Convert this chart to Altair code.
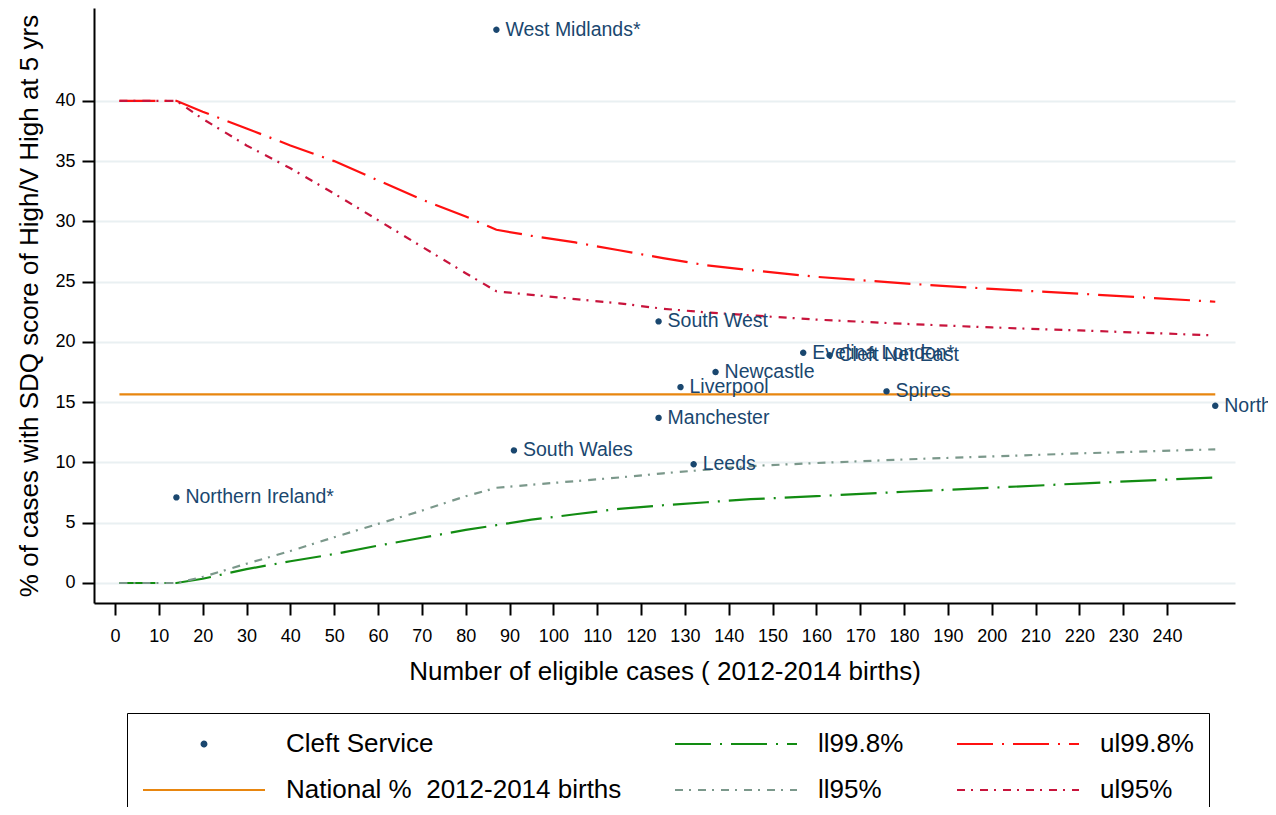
import altair as alt
import pandas as pd

FONT = "Liberation Sans"
NAVY = "#1a476f"
ORANGE = "#e8860f"
GREEN = "#128c12"
GREY = "#7b988b"
RED = "#ff1010"
CRIMSON = "#c8143c"

# ---- data ----
service_names = ["West Midlands*", "Northern Ireland*", "South Wales", "South West",
                 "Manchester", "Liverpool", "Leeds", "Newcastle", "Evelina London*",
                 "Cleft Net East", "Spires", "North Thames"]
service_n = [87, 14, 91, 124, 124, 129, 132, 137, 157, 163, 176, 251]
service_pct = [45.9, 7.1, 11.0, 21.7, 13.7, 16.25, 9.85, 17.5, 19.1, 18.9, 15.9, 14.7]

limit_n = [1, 14, 20, 30, 40, 50, 60, 70, 80, 87, 95, 105, 115, 125, 135, 145, 160, 180, 200, 220, 251]
ul998 = [40, 40, 39.1, 37.7, 36.3, 35.0, 33.4, 31.8, 30.4, 29.3, 28.8, 28.25, 27.6, 26.95,
         26.35, 25.95, 25.4, 24.85, 24.4, 24.0, 23.33]
ul95 = [40, 40, 38.5, 36.3, 34.4, 32.3, 30.1, 27.9, 25.7, 24.2, 23.9, 23.55, 23.2, 22.75,
        22.45, 22.2, 21.85, 21.5, 21.2, 20.95, 20.54]
ll95 = [0, 0, 0.5, 1.6, 2.65, 3.8, 4.9, 6.0, 7.2, 7.9, 8.15, 8.45, 8.75, 9.1, 9.4, 9.7,
        9.95, 10.25, 10.5, 10.75, 11.09]
ll998 = [0, 0, 0.35, 1.15, 1.8, 2.4, 3.1, 3.75, 4.4, 4.8, 5.25, 5.7, 6.15, 6.45, 6.7, 6.95,
         7.2, 7.57, 7.9, 8.25, 8.76]
national_n = [1, 251]
national_pct = [15.65, 15.65]

x_ticks = list(range(0, 250, 10))
y_ticks = list(range(0, 45, 5))

S_SERVICE = "Cleft Service"
S_NATIONAL = "National %\u00a0 2012-2014 births"
S_LL998 = "ll99.8%"
S_LL95 = "ll95%"
S_UL998 = "ul99.8%"
S_UL95 = "ul95%"
# legend fills column by column (2 rows x 3 columns)
SERIES = [S_SERVICE, S_NATIONAL, S_LL998, S_LL95, S_UL998, S_UL95]

# ---- tables ----
rows = []
for name, vals in [(S_LL998, ll998), (S_UL998, ul998), (S_LL95, ll95), (S_UL95, ul95)]:
    for n, v in zip(limit_n, vals):
        rows.append({"n": n, "pct": v, "series": name})
for n, v in zip(national_n, national_pct):
    rows.append({"n": n, "pct": v, "series": S_NATIONAL})
lines_df = pd.DataFrame(rows)

pts_df = pd.DataFrame({"name": service_names, "n": service_n, "pct": service_pct,
                       "series": S_SERVICE})

# ---- scales ----
LONG_DASH_DOT = [36, 9, 2, 9]
DASH_DOT = [8, 6, 2, 7]
SOLID = [1, 0]
DOT = "M0.04,0A0.04,0.04,0,1,1,-0.04,0A0.04,0.04,0,1,1,0.04,0Z"
LINE = "M-1,0L1,0"

x_scale = alt.Scale(domain=[-4.8, 255.5], nice=False, zero=False)
y_scale = alt.Scale(domain=[-1.66, 47.7], nice=False, zero=False)
stroke_scale = alt.Scale(domain=SERIES, range=[NAVY, ORANGE, GREEN, GREY, RED, CRIMSON])
dash_scale = alt.Scale(domain=SERIES, range=[SOLID, SOLID, LONG_DASH_DOT, DASH_DOT, LONG_DASH_DOT, DASH_DOT])
fill_scale = alt.Scale(domain=SERIES, range=[NAVY] + ["transparent"] * 5)
shape_scale = alt.Scale(domain=SERIES, range=[DOT] + [LINE] * 5)

legend = alt.Legend(
    title=None, orient="none", legendX=33, legendY=705, columns=3,
    symbolSize=14884, symbolStrokeWidth=2, symbolType=LINE,
    clipHeight=32, rowPadding=14,
    columnPadding=52, padding=15, strokeColor="black",
    labelFont=FONT, labelFontSize=26, labelColor="black", labelOffset=20,
    labelLimit=600,
)

x_axis = alt.Axis(
    values=x_ticks, title="Number of eligible cases ( 2012-2014 births)", grid=False,
    tickSize=12, tickWidth=2, tickColor="black", domainColor="black", domainWidth=2,
    labelFont=FONT, labelFontSize=18, labelColor="black", labelPadding=12,
    labelFlush=False, labelOverlap=False,
    titleFont=FONT, titleFontSize=26, titleFontWeight="normal", titleColor="black",
    titlePadding=13,
)
y_axis = alt.Axis(
    values=y_ticks, title="% of cases with SDQ score of High/V High at 5 yrs", grid=True,
    gridColor="#e9f0f2", gridWidth=2,
    tickSize=12, tickWidth=2, tickColor="black", domainColor="black", domainWidth=2,
    labelFont=FONT, labelFontSize=18, labelColor="black", labelPadding=7,
    labelOverlap=False,
    titleFont=FONT, titleFontSize=26, titleFontWeight="normal", titleColor="black",
    titlePadding=12,
)

lines = alt.Chart(lines_df).mark_line(strokeWidth=2.2).encode(
    x=alt.X("n:Q", scale=x_scale, axis=x_axis),
    y=alt.Y("pct:Q", scale=y_scale, axis=y_axis),
    stroke=alt.Stroke("series:N", scale=stroke_scale, legend=legend),
    strokeDash=alt.StrokeDash("series:N", scale=dash_scale, legend=legend),
)

points = alt.Chart(pts_df).mark_point(size=14884, strokeWidth=1.5, opacity=1).encode(
    x=alt.X("n:Q", scale=x_scale),
    y=alt.Y("pct:Q", scale=y_scale),
    stroke=alt.Stroke("series:N", scale=stroke_scale, legend=legend),
    fill=alt.Fill("series:N", scale=fill_scale, legend=legend),
    shape=alt.Shape("series:N", scale=shape_scale, legend=legend),
    strokeDash=alt.StrokeDash("series:N", scale=dash_scale, legend=legend),
)

labels = alt.Chart(pts_df).mark_text(
    align="left", baseline="middle", dx=9, font=FONT, fontSize=19.5, color=NAVY
).encode(
    x=alt.X("n:Q", scale=x_scale),
    y=alt.Y("pct:Q", scale=y_scale),
    text="name:N",
)

chart = alt.layer(lines, points, labels).properties(
    width=1141, height=595,
    autosize=alt.AutoSizeParams(type="none"),
    padding={"left": 86, "top": 0, "right": 33, "bottom": 204},
    background="white",
).configure_view(strokeWidth=0)

chart.save("out.html", embed_options={"renderer": "svg", "actions": False})
